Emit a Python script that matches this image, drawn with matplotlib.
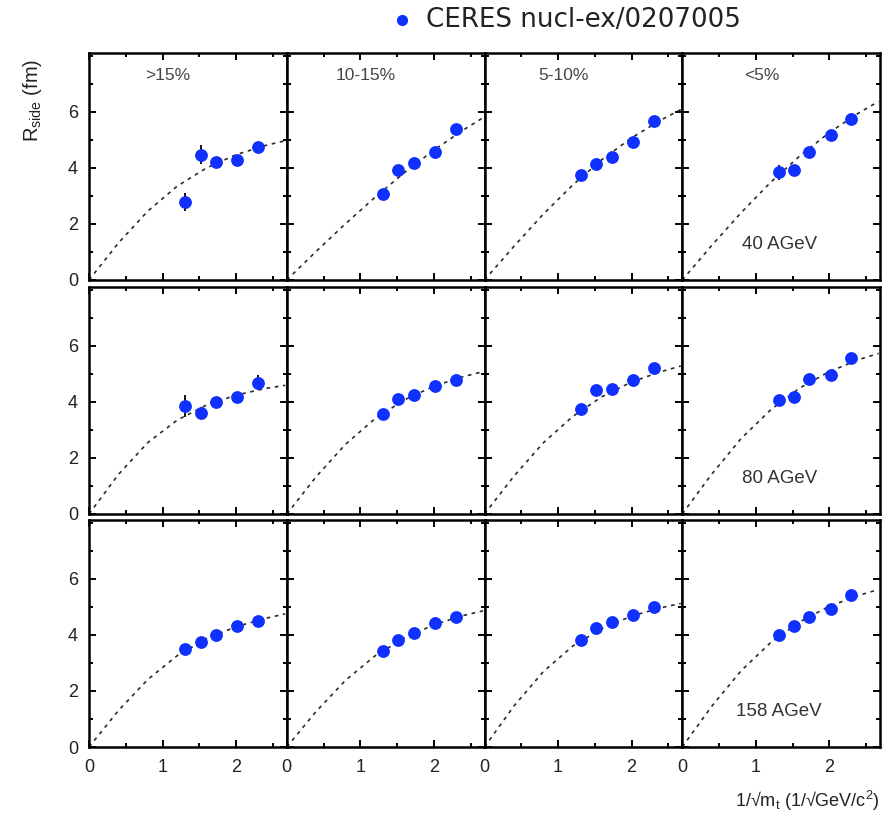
import matplotlib
matplotlib.use('Agg')
import matplotlib.pyplot as plt
from matplotlib.ticker import MultipleLocator

# ---------------- data ----------------
centralities = ['>15%', '10-15%', '5-10%', '<5%']
energies = ['40 AGeV', '80 AGeV', '158 AGeV']
x_pts = [1.31, 1.52, 1.73, 2.02, 2.30]

rside_40 = [[2.78, 4.47, 4.21, 4.29, 4.74],
            [3.07, 3.93, 4.17, 4.57, 5.38],
            [3.73, 4.13, 4.38, 4.92, 5.69],
            [3.85, 3.94, 4.56, 5.17, 5.75]]
err_40 = [[0.33, 0.33, 0.15, 0.15, 0.15],
          [0.15, 0.15, 0.15, 0.15, 0.15],
          [0.15, 0.15, 0.15, 0.15, 0.15],
          [0.27, 0.15, 0.15, 0.15, 0.15]]

rside_80 = [[3.86, 3.61, 4.00, 4.18, 4.68],
            [3.58, 4.11, 4.25, 4.57, 4.78],
            [3.76, 4.41, 4.47, 4.78, 5.21],
            [4.06, 4.16, 4.81, 4.96, 5.58]]
err_80 = [[0.39, 0.2, 0.15, 0.15, 0.27],
          [0.15, 0.15, 0.15, 0.15, 0.15],
          [0.15, 0.15, 0.15, 0.15, 0.15],
          [0.15, 0.15, 0.15, 0.15, 0.15]]

rside_158 = [[3.48, 3.73, 3.98, 4.30, 4.51],
             [3.44, 3.82, 4.08, 4.43, 4.64],
             [3.82, 4.23, 4.45, 4.71, 4.98],
             [4.00, 4.32, 4.64, 4.94, 5.43]]
err_158 = [[0.12, 0.12, 0.12, 0.12, 0.12],
           [0.12, 0.12, 0.12, 0.12, 0.12],
           [0.12, 0.12, 0.12, 0.12, 0.12],
           [0.12, 0.12, 0.12, 0.12, 0.12]]

# fitted curves read at these abscissae
fit_x = [0, 0.4, 0.8, 1.2, 1.6, 2.0, 2.4, 2.67]
fit_40 = [[0, 1.32, 2.46, 3.35, 4.00, 4.47, 4.80, 4.97],
          [0, 1.02, 2.01, 2.95, 3.83, 4.63, 5.35, 5.79],
          [0, 1.20, 2.35, 3.39, 4.30, 5.07, 5.71, 6.08],
          [0, 1.23, 2.40, 3.48, 4.43, 5.26, 5.96, 6.37]]
fit_80 = [[0, 1.41, 2.55, 3.35, 3.89, 4.24, 4.48, 4.59],
          [0, 1.33, 2.49, 3.40, 4.07, 4.56, 4.90, 5.08],
          [0, 1.35, 2.54, 3.48, 4.19, 4.71, 5.08, 5.28],
          [0, 1.42, 2.69, 3.71, 4.50, 5.08, 5.51, 5.73]]
fit_158 = [[0, 1.30, 2.41, 3.26, 3.87, 4.29, 4.59, 4.75],
           [0, 1.27, 2.38, 3.25, 3.89, 4.36, 4.69, 4.86],
           [0, 1.46, 2.69, 3.60, 4.23, 4.67, 4.97, 5.12],
           [0, 1.45, 2.72, 3.72, 4.47, 5.02, 5.41, 5.62]]

# ---------------- layout ----------------
W, H = 889, 818
fig = plt.figure(figsize=(W / 100, H / 100), dpi=100)

left_px, right_px = 89, 880
col_w = (right_px - left_px) / 4
row_tops = [53, 287, 520]
row_h = 227

blue = '#1030ff'
tick_font = dict(family='Liberation Sans', size=13, color='#222222')

rows = [(rside_40, err_40, fit_40, energies[0]),
        (rside_80, err_80, fit_80, energies[1]),
        (rside_158, err_158, fit_158, energies[2])]

for i, (rs, es, fs, elab) in enumerate(rows):
    for j in range(4):
        l = (left_px + j * col_w) / W
        b = 1 - (row_tops[i] + row_h) / H
        ax = fig.add_axes([l, b, col_w / W, row_h / H])
        ax.plot(fit_x, fs[j], ls=(0, (2.2, 2.8)), color='#2a2a2a', lw=1.2)
        ax.errorbar(x_pts, rs[j], yerr=es[j], fmt='o', ms=8.2, mfc=blue, mec=blue,
                    ecolor='black', elinewidth=1.3, capsize=0, zorder=3)
        ax.set_xlim(0, 2.69)
        ax.set_ylim(0, 8.1)
        ax.set_xticks([0, 1, 2])
        ax.set_yticks([0, 2, 4, 6])
        ax.xaxis.set_minor_locator(MultipleLocator(0.5))
        ax.yaxis.set_minor_locator(MultipleLocator(1))
        ax.tick_params(which='both', direction='in', top=True, right=True,
                       width=1.4, colors='black')
        ax.tick_params(which='major', length=5)
        ax.tick_params(which='minor', length=3)
        for s in ax.spines.values():
            s.set_linewidth(1.8)
        if i == 2:
            ax.set_xticklabels(['0', '1', '2'], fontdict=tick_font)
            ax.tick_params(axis='x', pad=9)
        else:
            ax.set_xticklabels([])
        if j == 0:
            ax.set_yticklabels(['0', '2', '4', '6'], fontdict=tick_font)
            ax.tick_params(axis='y', pad=8)
        else:
            ax.set_yticklabels([])
        if i == 0:
            ax.text(0.40, 0.90, centralities[j], transform=ax.transAxes,
                    ha='center', va='center', family='Liberation Sans',
                    fontsize=12.5, color='#444444')
        if j == 3:
            ax.text(0.49, 0.155, elab, transform=ax.transAxes,
                    ha='center', va='center', family='Liberation Sans',
                    fontsize=13.5, color='#333333')

# axis titles
fig.text(33 / W, 1 - 100 / H, r'R$_{\mathregular{side}}$ (fm)', rotation=90,
         ha='center', va='center', family='Liberation Sans', fontsize=14.5,
         color='#222222')
fig.text(880 / W, 1 - 801 / H, '1/\u221am$_{\mathregular{t}}$ (1/\u221aGeV/c$^{\mathregular{2}}$)',
         ha='right', va='center', family='Liberation Sans', fontsize=13,
         color='#222222')

# legend
fig.lines.append(plt.Line2D([402 / W], [1 - 20 / H], transform=fig.transFigure,
                            marker='o', ms=7, color=blue, ls='none'))
fig.text(426 / W, 1 - 20 / H, 'CERES nucl-ex/0207005', ha='left', va='center',
         family='DejaVu Sans', fontsize=18.8, color='#222222')

fig.savefig('out.png', dpi=100)
